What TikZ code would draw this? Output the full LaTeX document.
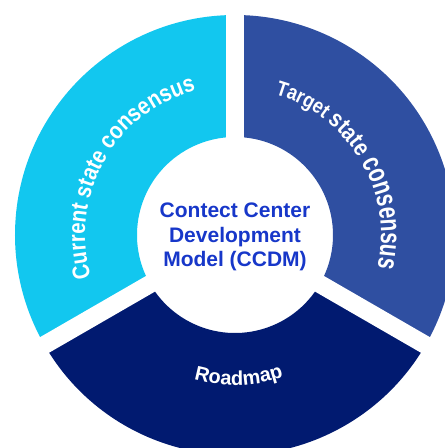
\documentclass[tikz,border=0pt]{standalone}
\usepackage{fontspec}
\setmainfont{Liberation Sans}
\newfontfamily\ringFont[FakeStretch=0.85]{Liberation Sans}
\newfontfamily\ringFontNarrow[FakeStretch=0.72]{Liberation Sans}
\usetikzlibrary{decorations.text}
\definecolor{currentCyan}{HTML}{12C7EF}
\definecolor{targetBlue}{HTML}{2F4FA1}
\definecolor{roadmapNavy}{HTML}{011A70}
\definecolor{ccdmBlue}{HTML}{1737C9}
\newcommand{\ringCurrent}{\ringFont\bfseries\fontsize{24}{24}\selectfont\color{white}}
\newcommand{\ringTargetA}{\ringFont\bfseries\fontsize{21}{21}\selectfont\color{white}}
\newcommand{\ringTargetB}{\ringFont\bfseries\fontsize{24}{24}\selectfont\color{white}}
\newcommand{\ringTargetC}{\ringFontNarrow\bfseries\fontsize{29}{29}\selectfont\color{white}}
\newcommand{\ringRoadmap}{\bfseries\fontsize{20}{20}\selectfont\color{white}}
\tikzset{
  ringText/.style={decorate, decoration={text along path, text align=center, text={#1}}},
  ccdmLabel/.style={align=center, inner sep=0pt, text=ccdmBlue,
    font=\bfseries\fontsize{21}{24.5}\selectfont}
}
\begin{document}
\begin{tikzpicture}[x=1pt, y=1pt]
        \pgfmathsetmacro{\outerRadius}{220}
        \pgfmathsetmacro{\innerRadius}{98}
        \pgfmathsetmacro{\gapWidth}{18}
        \useasboundingbox (-235,-213) rectangle (210,235);
        \clip (-235,-213) rectangle (210,235);
        \foreach \startAngle/\segColor in {90/currentCyan, -30/targetBlue, 210/roadmapNavy}
          \fill[\segColor] (\startAngle:\outerRadius) arc[start angle=\startAngle, delta angle=120, radius=\outerRadius]
            -- ({\startAngle+120}:\innerRadius) arc[start angle=\startAngle+120, delta angle=-120, radius=\innerRadius] -- cycle;
        \foreach \gapAngle in {90, 210, 330}
          \draw[white, line width=\gapWidth pt] (0,0) -- (\gapAngle:250);
        \path[ringText={|\ringCurrent|Current state consensus}]
          (200.75:150) arc[start angle=200.75, end angle=100.75, radius=150];
        \path[ringText={|\ringTargetA|Target |\ringTargetB|state |\ringTargetC|consensus}]
          (80.5:146) arc[start angle=80.5, end angle=-19.5, radius=146];
        \path[ringText={|\ringRoadmap|Roadmap}]
          (221.5:150) arc[start angle=221.5, end angle=321.5, radius=150];
        \node[ccdmLabel] (ccdm) at (0,-2) {Contect Center\\Development\\Model (CCDM)};
      \end{tikzpicture}
\end{document}
